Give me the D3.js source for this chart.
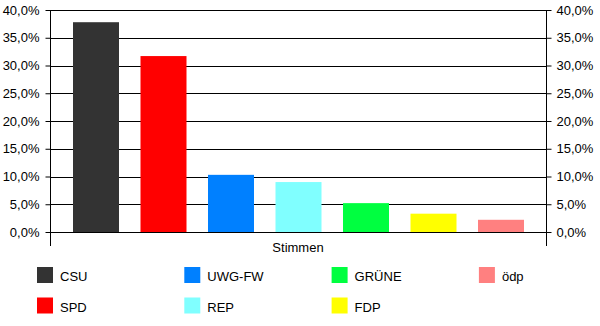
<!DOCTYPE html>
<html><head><meta charset="utf-8">
<script src="https://cdn.jsdelivr.net/npm/d3@7"></script>
<style>body{margin:0;background:#fff}svg{display:block}text{font-family:"Liberation Sans",Arial,sans-serif;fill:#000}</style>
</head><body><svg id="c" width="600" height="326"></svg>
<script>
const parties = ["CSU","SPD","UWG-FW","REP","GRÜNE","FDP","ödp"];
const values = [37.8, 31.7, 10.3, 9.0, 5.2, 3.3, 2.2];
const colors = ["#333333","#ff0000","#0080ff","#80ffff","#00ff40","#ffff00","#ff8080"];
const ticks = [0,5,10,15,20,25,30,35,40];
const category = "Stimmen";

const svg = d3.select("#c");
const L = 50, R = 546, T = 10, B = 232;
const FS = 13;
const y = d3.scaleLinear().domain([0,40]).range([B,T]);
const x = d3.scaleBand().domain(parties).range([73,524]).paddingInner(0.3185);
const fmt = d => d3.format(".1f")(d).replace(".", ",") + "%";

// gridlines
svg.append("g").selectAll("line").data(ticks).join("line")
  .attr("x1",L).attr("x2",R).attr("y1",d=>Math.round(y(d))+0.5).attr("y2",d=>Math.round(y(d))+0.5)
  .attr("stroke","#000").attr("stroke-width",1);

// bars
svg.append("g").selectAll("rect").data(parties).join("rect")
  .attr("x",d=>x(d)).attr("width",x.bandwidth())
  .attr("y",(d,i)=>y(values[i])).attr("height",(d,i)=>B-y(values[i]))
  .attr("fill",(d,i)=>colors[i]);

const la = svg.append("g").attr("transform",`translate(${L+0.5},0)`)
  .call(d3.axisLeft(y).tickValues(ticks).tickSize(5).tickSizeOuter(0).tickFormat(fmt));
const ra = svg.append("g").attr("transform",`translate(${R+0.5},0)`)
  .call(d3.axisRight(y).tickValues(ticks).tickSize(5).tickSizeOuter(0).tickFormat(fmt));
[la,ra].forEach(a=>{
  a.select(".domain").remove();
  a.selectAll("line").attr("stroke","#000");
  a.selectAll("text").attr("font-size",FS).style("font-family","Liberation Sans, Arial, sans-serif");
});
la.selectAll("text").attr("x",-11);
ra.selectAll("text").attr("x",10);
// vertical axis lines (extend below as category tick)
[L,R].forEach(xx=>svg.append("line").attr("x1",xx+0.5).attr("x2",xx+0.5).attr("y1",T).attr("y2",246).attr("stroke","#000"));

svg.append("text").attr("x",(L+R)/2).attr("y",252).attr("text-anchor","middle").attr("font-size",FS).text(category);

// legend
const lg = svg.append("g").selectAll("g").data(parties).join("g")
  .attr("transform",(d,i)=>`translate(${37+Math.floor(i/2)*147.3},${267+(i%2)*30.5})`);
lg.append("rect").attr("width",16).attr("height",16).attr("fill",(d,i)=>colors[i]);
lg.append("text").attr("x",23).attr("y",14).attr("font-size",FS).text(d=>d);
</script></body></html>
